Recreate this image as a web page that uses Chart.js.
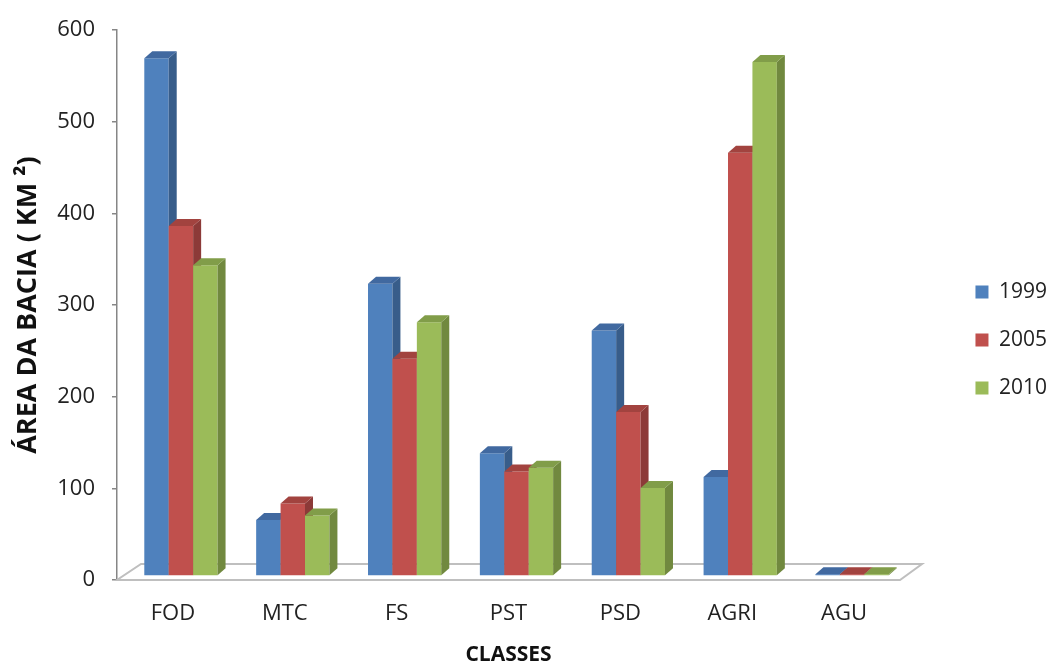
<!DOCTYPE html>
<html><head><meta charset="utf-8">
<script src="https://cdn.jsdelivr.net/npm/chart.js@4.4.1/dist/chart.umd.min.js"></script>
<style>html,body{margin:0;padding:0;background:#fff}#wrap{width:1057px;height:666px;position:relative}</style>
</head><body><div id="wrap"><canvas id="c"></canvas></div>
<script>
const categories = ['FOD', 'MTC', 'FS', 'PST', 'PSD', 'AGRI', 'AGU'];
const seriesNames = ['1999', '2005', '2010'];
const values1999 = [565, 61, 319, 134, 268, 108, 2];
const values2005 = [382, 79, 237, 114, 179, 462, 2];
const values2010 = [339, 66, 277, 118, 96, 561, 2];
const yTickValues = [0, 100, 200, 300, 400, 500, 600];
const yTitle = 'ÁREA DA BACIA ( KM ²)';
const xTitle = 'CLASSES';

const frontColors = ['#4F81BD', '#C0504D', '#9BBB59'];
const sideColors = ['#385D8A', '#8C3A38', '#71893F'];
const topColors = ['#4169A0', '#A2433F', '#819D49'];
const DX = 8, DY = -7, SHIFT_X = 8, SHIFT_Y = -4;
const FONT = "'Open Sans', 'DejaVu Sans', sans-serif";

const bars3d = {
  id: 'bars3d',
  beforeDatasetDraw() { return false; },
  afterDatasetsDraw(chart) {
    const {ctx, chartArea: a} = chart;
    ctx.save();
    ctx.beginPath();
    ctx.moveTo(a.left, a.bottom);
    ctx.lineTo(a.right, a.bottom);
    ctx.lineTo(a.right + 22, a.bottom - 16);
    ctx.lineTo(a.left + 24, a.bottom - 16);
    ctx.closePath();
    ctx.fillStyle = '#ffffff';
    ctx.fill();
    ctx.strokeStyle = '#BFBFBF';
    ctx.lineWidth = 2;
    ctx.stroke();
    ctx.translate(SHIFT_X, SHIFT_Y);
    chart.data.datasets.forEach((ds, i) => {
      const meta = chart.getDatasetMeta(i);
      if (!meta.visible) return;
      meta.controller.draw();
      meta.data.forEach(bar => {
        const {x, y, base, width} = bar.getProps(['x', 'y', 'base', 'width'], true);
        const l = x - width / 2, r = x + width / 2;
        ctx.fillStyle = sideColors[i];
        ctx.beginPath();
        ctx.moveTo(r, y); ctx.lineTo(r + DX, y + DY); ctx.lineTo(r + DX, base + DY); ctx.lineTo(r, base);
        ctx.closePath(); ctx.fill();
        ctx.fillStyle = topColors[i];
        ctx.beginPath();
        ctx.moveTo(l, y); ctx.lineTo(l + DX, y + DY); ctx.lineTo(r + DX, y + DY); ctx.lineTo(r, y);
        ctx.closePath(); ctx.fill();
      });
    });
    ctx.restore();
  }
};

const seriesValues = [values1999, values2005, values2010];
new Chart(document.getElementById('c'), {
  type: 'bar',
  data: {
    labels: categories,
    datasets: seriesNames.map((n, i) => ({
      label: n,
      data: seriesValues[i],
      backgroundColor: frontColors[i],
      borderWidth: 0,
      categoryPercentage: 0.655,
      barPercentage: 1
    }))
  },
  plugins: [bars3d],
  options: {
    responsive: true,
    maintainAspectRatio: false,
    animation: false,
    layout: {padding: {top: 25, right: 0, bottom: 11, left: 0}},
    plugins: {
      tooltip: {enabled: false},
      legend: {
        position: 'right',
        labels: {boxWidth: 13, boxHeight: 13, padding: 27, color: '#222', font: {family: FONT, size: 21}}
      }
    },
    scales: {
      x: {
        grid: {display: false, drawTicks: false},
        border: {display: false},
        ticks: {color: '#222', font: {family: FONT, size: 22}, padding: 21},
        title: {display: true, text: xTitle, color: '#111', font: {family: FONT, size: 21, weight: 'bold'}, padding: {top: 0, bottom: -13}},
        afterFit(s) { s.height = 75; }
      },
      y: {
        min: 0, max: 600,
        afterBuildTicks(s) { s.ticks = yTickValues.map(v => ({value: v})); },
        grid: {drawOnChartArea: false, drawTicks: true, tickLength: 5, color: '#868686', lineWidth: 1.5},
        border: {display: true, color: '#868686', width: 1.5},
        ticks: {color: '#222', font: {family: FONT, size: 22}, padding: 17},
        title: {display: true, text: yTitle, color: '#111', font: {family: FONT, size: 27, weight: 'bold'}, padding: {top: 12, bottom: 0}},
        afterFit(s) { s.width = 117; }
      },
      gap: {
        position: 'right',
        display: true,
        grid: {display: false, drawTicks: false},
        border: {display: false},
        ticks: {display: false},
        afterFit(s) {
          const lw = s.chart.legend ? s.chart.legend.width : 107;
          s.width = Math.max(0, s.chart.width - lw - 900);
        }
      }
    }
  }
});
</script></body></html>
